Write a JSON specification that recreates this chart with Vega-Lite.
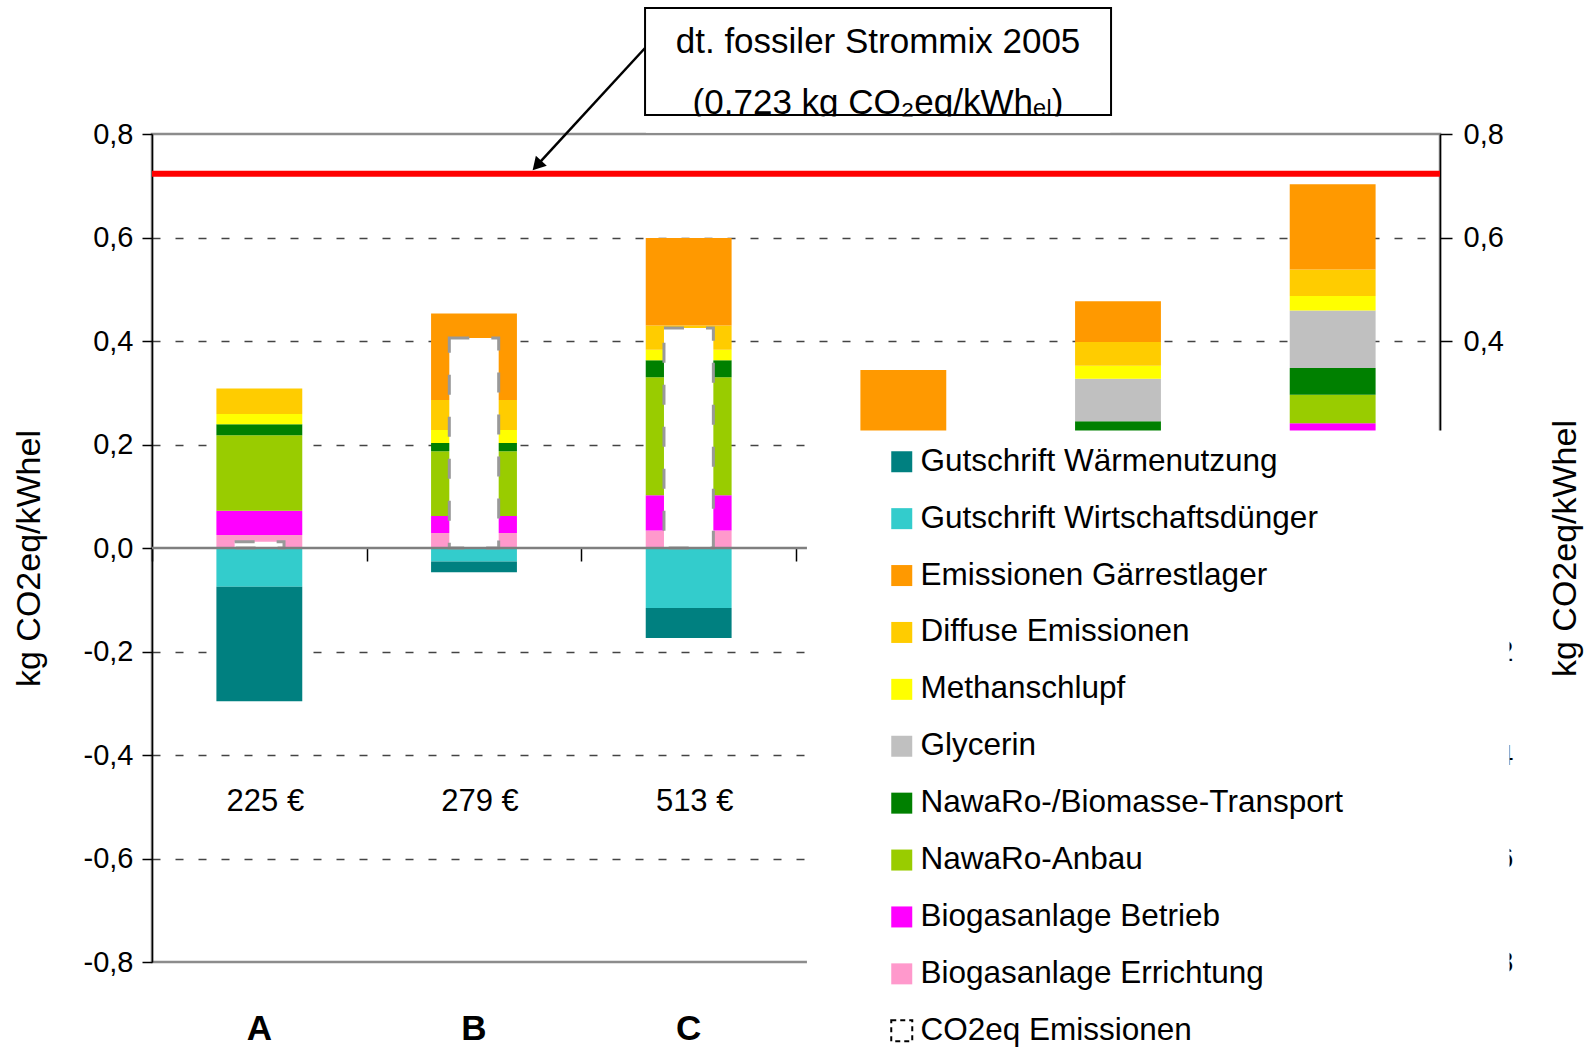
{
  "$schema": "https://vega.github.io/schema/vega-lite/v6.json",
  "width": 1288,
  "height": 828,
  "autosize": {"type": "none"},
  "padding": {"left": 152, "top": 134, "right": 147, "bottom": 86},
  "background": "white",
  "config": {
    "view": {"stroke": "#8c8c8c", "strokeWidth": 2.5},
    "font": "Liberation Sans",
    "axis": {"labelFont": "Liberation Sans", "titleFont": "Liberation Sans", "labelColor": "#000", "titleColor": "#000", "titleFontWeight": "normal"},
    "locale": {"number": {"decimal": ",", "thousands": ".", "grouping": [3], "currency": ["", " €"], "minus": "-"}}
  },
  "datasets": {
    "anteile": [
      {"k": "A", "serie": "Biogasanlage Errichtung", "wert": 0.025},
      {"k": "A", "serie": "Biogasanlage Betrieb", "wert": 0.047},
      {"k": "A", "serie": "NawaRo-Anbau", "wert": 0.146},
      {"k": "A", "serie": "NawaRo-/Biomasse-Transport", "wert": 0.021},
      {"k": "A", "serie": "Methanschlupf", "wert": 0.020},
      {"k": "A", "serie": "Diffuse Emissionen", "wert": 0.049},
      {"k": "A", "serie": "Gutschrift Wirtschaftsdünger", "wert": -0.075},
      {"k": "A", "serie": "Gutschrift Wärmenutzung", "wert": -0.221},
      {"k": "B", "serie": "Biogasanlage Errichtung", "wert": 0.029},
      {"k": "B", "serie": "Biogasanlage Betrieb", "wert": 0.033},
      {"k": "B", "serie": "NawaRo-Anbau", "wert": 0.125},
      {"k": "B", "serie": "NawaRo-/Biomasse-Transport", "wert": 0.016},
      {"k": "B", "serie": "Methanschlupf", "wert": 0.025},
      {"k": "B", "serie": "Diffuse Emissionen", "wert": 0.058},
      {"k": "B", "serie": "Emissionen Gärrestlager", "wert": 0.167},
      {"k": "B", "serie": "Gutschrift Wirtschaftsdünger", "wert": -0.026},
      {"k": "B", "serie": "Gutschrift Wärmenutzung", "wert": -0.021},
      {"k": "C", "serie": "Biogasanlage Errichtung", "wert": 0.034},
      {"k": "C", "serie": "Biogasanlage Betrieb", "wert": 0.068},
      {"k": "C", "serie": "NawaRo-Anbau", "wert": 0.228},
      {"k": "C", "serie": "NawaRo-/Biomasse-Transport", "wert": 0.033},
      {"k": "C", "serie": "Methanschlupf", "wert": 0.020},
      {"k": "C", "serie": "Diffuse Emissionen", "wert": 0.047},
      {"k": "C", "serie": "Emissionen Gärrestlager", "wert": 0.169},
      {"k": "C", "serie": "Gutschrift Wirtschaftsdünger", "wert": -0.116},
      {"k": "C", "serie": "Gutschrift Wärmenutzung", "wert": -0.058},
      {"k": "D", "serie": "Biogasanlage Errichtung", "wert": 0.02},
      {"k": "D", "serie": "Biogasanlage Betrieb", "wert": 0.03},
      {"k": "D", "serie": "NawaRo-Anbau", "wert": 0.13},
      {"k": "D", "serie": "NawaRo-/Biomasse-Transport", "wert": 0.02},
      {"k": "D", "serie": "Methanschlupf", "wert": 0.01},
      {"k": "D", "serie": "Diffuse Emissionen", "wert": 0.01},
      {"k": "D", "serie": "Emissionen Gärrestlager", "wert": 0.124},
      {"k": "E", "serie": "Biogasanlage Errichtung", "wert": 0.03},
      {"k": "E", "serie": "Biogasanlage Betrieb", "wert": 0.045},
      {"k": "E", "serie": "NawaRo-Anbau", "wert": 0.13},
      {"k": "E", "serie": "NawaRo-/Biomasse-Transport", "wert": 0.04},
      {"k": "E", "serie": "Glycerin", "wert": 0.082},
      {"k": "E", "serie": "Methanschlupf", "wert": 0.025},
      {"k": "E", "serie": "Diffuse Emissionen", "wert": 0.046},
      {"k": "E", "serie": "Emissionen Gärrestlager", "wert": 0.079},
      {"k": "F", "serie": "Biogasanlage Errichtung", "wert": 0.04},
      {"k": "F", "serie": "Biogasanlage Betrieb", "wert": 0.201},
      {"k": "F", "serie": "NawaRo-Anbau", "wert": 0.055},
      {"k": "F", "serie": "NawaRo-/Biomasse-Transport", "wert": 0.052},
      {"k": "F", "serie": "Glycerin", "wert": 0.111},
      {"k": "F", "serie": "Methanschlupf", "wert": 0.028},
      {"k": "F", "serie": "Diffuse Emissionen", "wert": 0.051},
      {"k": "F", "serie": "Emissionen Gärrestlager", "wert": 0.165}
    ],
    "netto": [
      {"k": "A", "serie": "CO2eq Emissionen", "wert": 0.012},
      {"k": "B", "serie": "CO2eq Emissionen", "wert": 0.406},
      {"k": "C", "serie": "CO2eq Emissionen", "wert": 0.425}
    ],
    "kosten": [
      {"k": "A", "text": "225 €"},
      {"k": "B", "text": "279 €"},
      {"k": "C", "text": "513 €"}
    ]
  },
  "layer": [
    {
      "layer": [
        {
          "data": {"name": "anteile"},
          "transform": [
            {"calculate": "indexof(['Biogasanlage Errichtung','Biogasanlage Betrieb','NawaRo-Anbau','NawaRo-/Biomasse-Transport','Glycerin','Methanschlupf','Diffuse Emissionen','Emissionen Gärrestlager','Gutschrift Wirtschaftsdünger','Gutschrift Wärmenutzung'], datum.serie)", "as": "stapel"}
          ],
          "mark": {"type": "bar", "width": {"band": 0.4}},
          "encoding": {
            "x": {
              "field": "k", "type": "nominal",
              "scale": {"domain": ["A", "B", "C", "D", "E", "F"], "paddingInner": 0, "paddingOuter": 0},
              "axis": {"orient": "bottom", "title": null, "domain": false, "ticks": false, "tickSize": 0, "labelPadding": 49, "labelAngle": 0, "labelFontWeight": "bold", "labelFontSize": 35, "grid": false, "zindex": 0, "labelExpr": "indexof(['A','B','C'], datum.label) >= 0 ? datum.label : ''"}
            },
            "y": {
              "field": "wert", "type": "quantitative", "stack": "zero",
              "scale": {"domain": [-0.8, 0.8], "nice": false},
              "axis": {
                "orient": "left", "title": "kg CO2eq/kWhel", "titleFontSize": 34, "titlePadding": 37, "titleY": 424,
                "values": [-0.8, -0.6, -0.4, -0.2, 0, 0.2, 0.4, 0.6, 0.8], "format": ".1f",
                "labelFontSize": 29, "labelPadding": 9, "tickSize": 10, "tickColor": "#000", "tickWidth": 1.5,
                "domainColor": "#000", "domainWidth": 1.5,
                "grid": true, "gridDash": [8, 15], "gridColor": "#444", "gridWidth": 1.5,
                "gridOpacity": {"condition": {"test": "abs(datum.value) > 0.7 || datum.value == 0", "value": 0}, "value": 1},
                "zindex": 0
              }
            },
            "color": {
              "field": "serie", "type": "nominal",
              "scale": {
                "domain": ["Gutschrift Wärmenutzung", "Gutschrift Wirtschaftsdünger", "Emissionen Gärrestlager", "Diffuse Emissionen", "Methanschlupf", "Glycerin", "NawaRo-/Biomasse-Transport", "NawaRo-Anbau", "Biogasanlage Betrieb", "Biogasanlage Errichtung", "CO2eq Emissionen"],
                "range": ["#008080", "#33CCCC", "#FF9900", "#FFCC00", "#FFFF00", "#C0C0C0", "#008000", "#99CC00", "#FF00FF", "#FF99CC", "#FFFFFF"]
              },
              "legend": {
                "title": null, "orient": "none", "legendX": 734, "legendY": 312, "direction": "vertical",
                "padding": 0, "symbolType": "square", "symbolSize": 441, "symbolOpacity": 1,
                "labelFont": "Liberation Sans", "labelFontSize": 31.5, "labelColor": "#000", "labelOffset": 3, "labelLimit": 900,
                "rowPadding": 23.9, "zindex": 2,
                "encode": {"symbols": {"update": {
                  "stroke": {"signal": "datum.value === 'CO2eq Emissionen' ? '#000000' : 'transparent'"},
                  "strokeDash": {"signal": "datum.value === 'CO2eq Emissionen' ? [5, 4] : [1, 0]"},
                  "strokeWidth": {"value": 2}
                }}}
              }
            },
            "order": {"field": "stapel", "type": "quantitative"}
          }
        },
        {
          "data": {"name": "netto"},
          "mark": {"type": "bar", "width": {"band": 0.23}, "stroke": "#999999", "strokeWidth": 3, "strokeDash": [20, 22]},
          "encoding": {
            "x": {
              "field": "k", "type": "nominal",
              "axis": {"orient": "bottom", "offset": -414, "title": null, "domain": false, "labels": false, "ticks": true, "tickBand": "extent", "tickSize": 13, "tickColor": "#000", "tickWidth": 1.5, "grid": false, "zindex": 0}
            },
            "y": {
              "field": "wert", "type": "quantitative", "stack": null,
              "axis": {
                "orient": "right", "title": "kg CO2eq/kWhel", "titleFontSize": 34, "titlePadding": 36, "titleAngle": 270, "titleBaseline": "top",
                "values": [-0.8, -0.6, -0.4, -0.2, 0, 0.2, 0.4, 0.6, 0.8], "format": ".1f",
                "labelFontSize": 29, "labelPadding": 11, "tickSize": 12, "tickColor": "#000", "tickWidth": 1.5,
                "domainColor": "#000", "domainWidth": 1.5, "grid": false, "zindex": 0
              }
            },
            "color": {"field": "serie", "type": "nominal"}
          }
        },
        {
          "data": {"values": [{}]},
          "mark": {"type": "rule", "color": "#7f7f7f", "strokeWidth": 2.5},
          "encoding": {"y": {"datum": 0, "type": "quantitative", "axis": null}}
        },
        {
          "data": {"values": [{}]},
          "mark": {"type": "rule", "color": "#ff0000", "strokeWidth": 6},
          "encoding": {"y": {"datum": 0.723, "type": "quantitative", "axis": null}}
        },
        {
          "data": {"name": "kosten"},
          "mark": {"type": "text", "font": "Liberation Sans", "fontSize": 31, "color": "#000", "baseline": "middle", "align": "center", "dx": 6},
          "encoding": {
            "x": {"field": "k", "type": "nominal", "axis": null},
            "y": {"datum": -0.49, "type": "quantitative", "axis": null},
            "text": {"field": "text"}
          }
        }
      ],
      "resolve": {"axis": {"x": "independent", "y": "independent"}}
    },
    {
      "data": {"values": [{}]},
      "layer": [
        {
          "mark": {"type": "rect", "fill": "white"},
          "encoding": {
            "x": {"datum": 0.5085, "type": "quantitative", "scale": {"domain": [0, 1]}, "axis": null},
            "x2": {"datum": 1.054},
            "y": {"datum": 0.227, "type": "quantitative", "axis": null},
            "y2": {"datum": -0.98}
          }
        },
        {
          "mark": {"type": "rect", "fill": "white"},
          "encoding": {
            "x": {"datum": 0.3828, "type": "quantitative", "scale": {"domain": [0, 1]}, "axis": null},
            "x2": {"datum": 0.7446},
            "y": {"datum": 1.0435, "type": "quantitative", "axis": null},
            "y2": {"datum": 0.8367}
          }
        },
        {
          "mark": {"type": "text", "text": "dt. fossiler Strommix 2005", "fontSize": 35, "color": "#000", "align": "center", "baseline": "middle"},
          "encoding": {
            "x": {"datum": 0.5637, "type": "quantitative", "scale": {"domain": [0, 1]}, "axis": null},
            "y": {"datum": 0.978, "type": "quantitative", "axis": null}
          }
        },
        {
          "mark": {"type": "text", "text": "(0.723 kg CO₂eq/kWhₑₗ)", "font": "Liberation Sans, DejaVu Sans", "fontSize": 35, "color": "#000", "align": "center", "baseline": "alphabetic"},
          "encoding": {
            "x": {"datum": 0.5637, "type": "quantitative", "scale": {"domain": [0, 1]}, "axis": null},
            "y": {"datum": 0.8387, "type": "quantitative", "axis": null}
          }
        },
        {
          "mark": {"type": "rect", "fill": "white"},
          "encoding": {
            "x": {"datum": 0.3835, "type": "quantitative", "scale": {"domain": [0, 1]}, "axis": null},
            "x2": {"datum": 0.7440},
            "y": {"datum": 0.8338, "type": "quantitative", "axis": null},
            "y2": {"datum": 0.8026}
          }
        },
        {
          "mark": {"type": "rect", "fill": null, "fillOpacity": 0, "stroke": "#000", "strokeWidth": 2},
          "encoding": {
            "x": {"datum": 0.3828, "type": "quantitative", "scale": {"domain": [0, 1]}, "axis": null},
            "x2": {"datum": 0.7446},
            "y": {"datum": 1.0435, "type": "quantitative", "axis": null},
            "y2": {"datum": 0.8367}
          }
        },
        {
          "mark": {"type": "rule", "color": "#000", "strokeWidth": 2.5},
          "encoding": {
            "x": {"datum": 0.3828, "type": "quantitative", "scale": {"domain": [0, 1]}, "axis": null},
            "x2": {"datum": 0.2989},
            "y": {"datum": 0.9662, "type": "quantitative", "axis": null},
            "y2": {"datum": 0.7393}
          }
        },
        {
          "mark": {"type": "point", "shape": "triangle-up", "filled": true, "color": "#000", "opacity": 1, "size": 220, "angle": 222.6},
          "encoding": {
            "x": {"datum": 0.2989, "type": "quantitative", "scale": {"domain": [0, 1]}, "axis": null},
            "y": {"datum": 0.7393, "type": "quantitative", "axis": null}
          }
        }
      ]
    }
  ],
  "resolve": {"scale": {"x": "independent"}, "axis": {"x": "independent", "y": "independent"}}
}
